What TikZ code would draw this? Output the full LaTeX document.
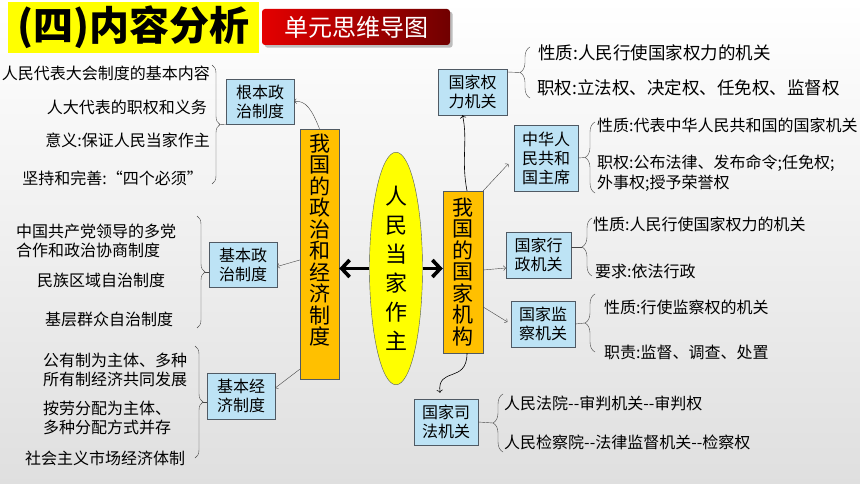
\documentclass[tikz,border=0pt]{standalone}
\usepackage{fontspec}
\setmainfont{Noto Sans CJK SC}
\usepackage{xcolor}
\usepackage{tikz}
\usetikzlibrary{arrows,arrows.meta,shapes,positioning,shadows,decorations.pathreplacing}
\definecolor{titleyellow}{RGB}{255, 255, 0}
\definecolor{btnred}{RGB}{228, 0, 0}
\definecolor{btndark}{RGB}{112, 0, 0}
\definecolor{boxorange}{RGB}{255, 192, 0}
\definecolor{boxblue}{RGB}{189, 227, 245}
\definecolor{boxline}{RGB}{80, 90, 100}
\definecolor{linkgray}{RGB}{70, 70, 70}

\begin{document}
\begin{tikzpicture}[x=1pt, y=-1pt,
    orgbox/.style={draw=boxline, fill=boxorange, align=center, inner sep=0pt, font=\fontsize{21}{21.5}\selectfont},
    bluebox/.style={draw=boxline, fill=boxblue, align=left, inner sep=0pt, font=\fontsize{16}{19}\selectfont},
    txt/.style={inner sep=0pt, align=left, font=\fontsize{16}{19}\selectfont},
    bigtxt/.style={inner sep=0pt, align=left, font=\fontsize{17.5}{20}\selectfont},
    link/.style={->, linkgray, thin},
    bigarrow/.style={-{Straight Barb[length=8pt,width=17pt]}, line width=3.6pt},
    brcl/.style={decorate, decoration={brace, amplitude=8pt}, linkgray, thin},
    brcr/.style={decorate, decoration={brace, amplitude=10pt}, linkgray, thin}]
    % Background
    \useasboundingbox (0,0) rectangle (860,484);
    \shade[top color=white, bottom color=gray!25] (0,0) rectangle (860,484);

    % Title
    \node[fill=titleyellow, minimum width=251pt, minimum height=51pt, inner sep=0pt, font=\fontsize{40}{40}\selectfont\bfseries] (title) at (133.5,27.5) {(四)内容分析};
    \node[rounded corners=3pt, left color=btnred, right color=btndark, drop shadow, minimum width=188pt, minimum height=36pt, inner sep=0pt, text=white, font=\fontsize{24}{24}\selectfont] (unit) at (356,27) {单元思维导图};

    % Center
    \node[ellipse, draw=boxline, fill=titleyellow, minimum width=53pt, minimum height=213pt, inner sep=0pt, align=center, font=\fontsize{22}{29}\selectfont] (people) at (396,268.5) {人\\民\\当\\家\\作\\主};
    \node[orgbox, minimum width=39pt, minimum height=250pt] (lbox) at (319.5,254) {};
    \node[orgbox, draw=none, fill=none, below=5pt of lbox.north] (ltext) {我\\国\\的\\政\\治\\和\\经\\济\\制\\度};
    \node[orgbox, minimum width=40pt, minimum height=162pt] (rbox) at (463,272) {我\\国\\的\\国\\家\\机\\构};
    \draw[bigarrow] (people.west) -- (lbox.east |- people.west);
    \draw[bigarrow] (people.east) -- (rbox.west |- people.east);

    % Left boxes
    \node[bluebox, minimum width=68pt, minimum height=45pt] (gb) at (260,101.5) {根本政\\治制度};
    \node[bluebox, minimum width=68pt, minimum height=45pt] (jz) at (243,264.5) {基本政\\治制度};
    \node[bluebox, minimum width=68pt, minimum height=46pt] (jj) at (241,396) {基本经\\济制度};
    \draw[link] (lbox.north) .. controls (312,110) and (306,100) .. (gb.east);
    \draw[link] ([yshift=-6pt]lbox.west) -- ([yshift=-2pt]jz.east);
    \draw[link] ([yshift=10pt]lbox.south west) -- ([yshift=8pt]jj.east);

    % Right boxes
    \node[bluebox, minimum width=69pt, minimum height=46pt] (ql) at (472.5,92) {国家权\\力机关};
    \node[bluebox, minimum width=64pt, minimum height=66pt] (zx) at (546,158) {中华人\\民共和\\国主席};
    \node[bluebox, minimum width=65pt, minimum height=46pt] (xz) at (538.5,255) {国家行\\政机关};
    \node[bluebox, minimum width=64pt, minimum height=46pt] (jc) at (543,324) {国家监\\察机关};
    \node[bluebox, minimum width=64pt, minimum height=46pt] (sf) at (446,422) {国家司\\法机关};
    \draw[link, black, semithick] ([xshift=4pt]rbox.north) .. controls (461,160) and (468,140) .. ([xshift=-10pt]ql.south);
    \draw[link, shorten >=8pt] (rbox.north east) -- (zx.west);
    \draw[link] ([yshift=2pt]rbox.east) -- ([yshift=-13pt]xz.west);
    \draw[link, shorten >=4pt] ([yshift=-35pt]rbox.east) -- (jc.west);
    \draw[link, black, semithick] ([xshift=4pt]rbox.south) .. controls (467,384) and (437,366) .. ([xshift=-6pt,yshift=6pt]sf.north);

    % Left texts
    \node[txt, anchor=east] (gb1) at (210,73) {人民代表大会制度的基本内容};
    \node[txt, anchor=east] (gb2) at (207,107) {人大代表的职权和义务};
    \node[txt, anchor=east] (gb3) at (210,140) {意义:保证人民当家作主};
    \node[txt, anchor=east] (gb4) at (203,178) {坚持和完善:“四个必须”};
    \node[txt, anchor=west] (jz1) at (16,241) {中国共产党领导的多党\\合作和政治协商制度};
    \node[txt, anchor=west] (jz2) at (37,280) {民族区域自治制度};
    \node[txt, anchor=west] (jz3) at (45,319) {基层群众自治制度};
    \node[txt, anchor=west] (jj1) at (43,369.5) {公有制为主体、多种\\所有制经济共同发展};
    \node[txt, anchor=west] (jj2) at (43,417.5) {按劳分配为主体、\\多种分配方式并存};
    \node[txt, anchor=west] (jj3) at (25,458) {社会主义市场经济体制};

    % Right texts
    \node[bigtxt, anchor=west] (ql1) at (538,53) {性质:人民行使国家权力的机关};
    \node[bigtxt, anchor=west] (ql2) at (537,88) {职权:立法权、决定权、任免权、监督权};
    \node[txt, anchor=west] (zx1) at (597,125) {性质:代表中华人民共和国的国家机关};
    \node[txt, anchor=west, font=\fontsize{16}{20}\selectfont] (zx2) at (597,173) {职权:公布法律、发布命令;任免权;\\外事权;授予荣誉权};
    \node[txt, anchor=west] (xz1) at (593,224) {性质:人民行使国家权力的机关};
    \node[txt, anchor=west] (xz2) at (595,271) {要求:依法行政};
    \node[txt, anchor=west] (jc1) at (604,307) {性质:行使监察权的机关};
    \node[txt, anchor=west] (jc2) at (604,352) {职责:监督、调查、处置};
    \node[txt, anchor=west] (sf1) at (504,403) {人民法院-{}-审判机关-{}-审判权};
    \node[txt, anchor=west] (sf2) at (504,442) {人民检察院-{}-法律监督机关-{}-检察权};

    % Braces
    \draw[brcl] (212,65) -- (212,184);
    \draw[brcl] (197,216) -- (197,328);
    \draw[brcl] (195,346) -- (195,458);
    \draw[linkgray, thin] (gb.south west) -- (220,124.5);
    \draw[linkgray, thin] ([yshift=-7.5pt]jz.west) -- (205,272);
    \draw[linkgray, thin] ([yshift=-6pt]jj.west) -- (203,402);
    \draw[brcr] (530,98) -- (530,47);
    \draw[brcr] (595,193) -- (595,122);
    \draw[brcr] (592,276) -- (592,218);
    \draw[brcr] (595,352) -- (595,294);
    \draw[brcr] (503,452) -- (503,394);
    \draw[linkgray, thin] ([yshift=20pt]ql.east) -- (520,72.5);
    \draw[linkgray, thin] (zx.east) -- (585,157.5);
    \draw[linkgray, thin] ([yshift=8pt]xz.east) -- (582,247);
    \draw[linkgray, thin] (jc.east) -- (585,323);
    \draw[linkgray, thin] (sf.east) -- (493,423);
\end{tikzpicture}
\end{document}
